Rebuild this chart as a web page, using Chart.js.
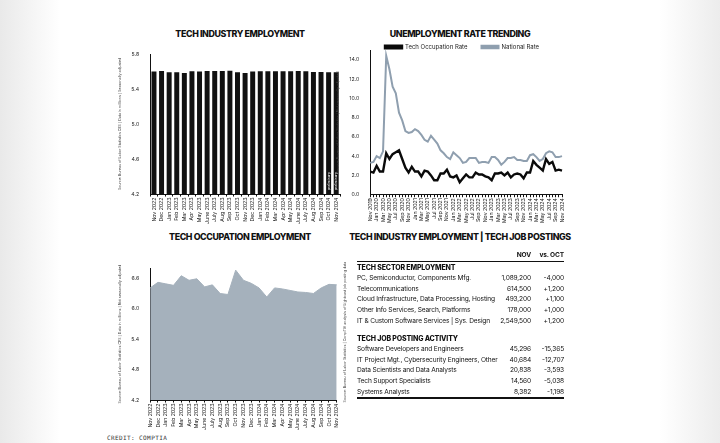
<!DOCTYPE html>
<html>
<head>
<meta charset="utf-8">
<script src="https://cdn.jsdelivr.net/npm/chart.js@4.4.1/dist/chart.umd.min.js"></script>
<style>
  html, body { margin: 0; padding: 0; }
  body {
    width: 720px; height: 443px; position: relative; overflow: hidden;
    background: linear-gradient(to right, #e9e9e9 0px, #ffffff 60px, #ffffff 660px, #ececec 720px);
    font-family: Inter, "Noto Sans", sans-serif; color: #111;
  }
  .box { position: absolute; }
  .title { position: absolute; font-weight: 800; font-size: 8.9px; letter-spacing: -0.4px; text-align: center; white-space: nowrap; }
  .side { position: absolute; font-size: 3.6px; color: #444; white-space: nowrap; transform: rotate(-90deg); transform-origin: center center; }
  .credit { position: absolute; left: 107px; top: 434px; font-family: "DejaVu Sans Mono", monospace; font-size: 6px; letter-spacing: 0.4px; color: #333; }
  table { position: absolute; left: 357px; top: 249px; width: 207px; border-collapse: collapse; font-size: 6.6px; letter-spacing: -0.15px; table-layout: fixed; }
  td { padding: 0; height: 10.6px; white-space: nowrap; }
  td.n { text-align: right; }
  tr.hd td { font-weight: 700; height: 12px; border-bottom: 1px solid #111; }
  tr.sec td { font-weight: 800; font-size: 7px; height: 11px; }
  tr.gap td { height: 7px; }
  tr.last td { border-bottom: 2px solid #111; }
</style>
</head>
<body>

<div class="title" style="left:120px; top:28px; width:240px;">TECH INDUSTRY EMPLOYMENT</div>
<div class="title" style="left:345px; top:28px; width:230px;">UNEMPLOYMENT RATE TRENDING</div>
<div class="title" style="left:120px; top:231px; width:240px;">TECH OCCUPATION EMPLOYMENT</div>
<div class="title" style="left:345px; top:231px; width:230px;">TECH INDUSTRY EMPLOYMENT | TECH JOB POSTINGS</div>

<div class="box" style="left:118px; top:47px; width:226px; height:178px;"><canvas id="barChart"></canvas></div>
<div class="box" style="left:336px; top:20px; width:252px; height:204px;"><canvas id="lineChart"></canvas></div>
<div class="box" style="left:118px; top:262px; width:226px; height:169px;"><canvas id="areaChart"></canvas></div>

<div class="side" style="top:330px; width:160px; margin-left:-80px; text-align:center; left:345px;">Source: Bureau of Labor Statistics | CompTIA analysis of Lightcast job posting data</div>

<table>
  <colgroup><col style="width:134px"><col style="width:40px"><col style="width:33px"></colgroup>
  <tr class="hd"><td></td><td class="n">NOV</td><td class="n">vs. OCT</td></tr>
  <tr class="sec"><td colspan="3">TECH SECTOR EMPLOYMENT</td></tr>
  <tr><td>PC, Semiconductor, Components Mfg.</td><td class="n">1,089,200</td><td class="n">-4,000</td></tr>
  <tr><td>Telecommunications</td><td class="n">614,500</td><td class="n">+1,200</td></tr>
  <tr><td>Cloud Infrastructure, Data Processing, Hosting</td><td class="n">493,200</td><td class="n">+1,100</td></tr>
  <tr><td>Other Info Services, Search, Platforms</td><td class="n">178,000</td><td class="n">+1,000</td></tr>
  <tr><td>IT &amp; Custom Software Services | Sys. Design</td><td class="n">2,549,500</td><td class="n">+1,200</td></tr>
  <tr class="gap"><td colspan="3"></td></tr>
  <tr class="sec"><td colspan="3">TECH JOB POSTING ACTIVITY</td></tr>
  <tr><td>Software Developers and Engineers</td><td class="n">45,296</td><td class="n">-15,365</td></tr>
  <tr><td>IT Project Mgt., Cybersecurity Engineers, Other</td><td class="n">40,684</td><td class="n">-12,707</td></tr>
  <tr><td>Data Scientists and Data Analysts</td><td class="n">20,838</td><td class="n">-3,593</td></tr>
  <tr><td>Tech Support Specialists</td><td class="n">14,560</td><td class="n">-5,038</td></tr>
  <tr class="last"><td>Systems Analysts</td><td class="n">8,382</td><td class="n">-1,198</td></tr>
</table>

<div class="credit">CREDIT: COMPTIA</div>

<script>
var monthLabels = ['Nov 2022', 'Dec 2022', 'Jan 2023', 'Feb 2023', 'Mar 2023', 'Apr 2023', 'May 2023',
    'June 2023', 'July 2023', 'Aug 2023', 'Sep 2023', 'Oct 2023', 'Nov 2023', 'Dec 2023', 'Jan 2024',
    'Feb 2024', 'Mar 2024', 'Apr 2024', 'May 2024', 'June 2024', 'July 2024', 'Aug 2024', 'Sep 2024',
    'Oct 2024', 'Nov 2024'];

// tech industry employment, millions
var industryEmployment = [5.599, 5.607, 5.591, 5.591, 5.583, 5.603, 5.599, 5.607, 5.607, 5.607, 5.610,
    5.591, 5.583, 5.599, 5.603, 5.603, 5.603, 5.603, 5.603, 5.607, 5.603, 5.595, 5.595, 5.591, 5.591];

// tech occupation employment, millions
var occupationEmployment = [6.41, 6.52, 6.49, 6.46, 6.65, 6.56, 6.59, 6.43, 6.47, 6.30, 6.28, 6.76,
    6.56, 6.50, 6.41, 6.23, 6.41, 6.39, 6.36, 6.33, 6.32, 6.30, 6.41, 6.48, 6.47];

var rateLabels = ['Nov 2019', 'Dec 2019',
    'Jan 2020', 'Feb 2020', 'Mar 2020', 'Apr 2020', 'May 2020', 'Jun 2020', 'Jul 2020', 'Aug 2020', 'Sep 2020', 'Oct 2020', 'Nov 2020', 'Dec 2020',
    'Jan 2021', 'Feb 2021', 'Mar 2021', 'Apr 2021', 'May 2021', 'Jun 2021', 'Jul 2021', 'Aug 2021', 'Sep 2021', 'Oct 2021', 'Nov 2021', 'Dec 2021',
    'Jan 2022', 'Feb 2022', 'Mar 2022', 'Apr 2022', 'May 2022', 'Jun 2022', 'Jul 2022', 'Aug 2022', 'Sep 2022', 'Oct 2022', 'Nov 2022', 'Dec 2022',
    'Jan 2023', 'Feb 2023', 'Mar 2023', 'Apr 2023', 'May 2023', 'Jun 2023', 'Jul 2023', 'Aug 2023', 'Sep 2023', 'Oct 2023', 'Nov 2023', 'Dec 2023',
    'Jan 2024', 'Feb 2024', 'Mar 2024', 'Apr 2024', 'May 2024', 'Jun 2024', 'Jul 2024', 'Aug 2024', 'Sep 2024', 'Oct 2024', 'Nov 2024'];

var techRate = [2.4, 2.3,
    3.0, 2.4, 2.4, 4.3, 3.7, 4.2, 4.4, 4.6, 3.7, 2.8, 2.3, 2.9,
    2.4, 2.4, 1.9, 2.5, 2.4, 2.0, 1.5, 1.5, 2.2, 2.2, 2.6, 1.9,
    1.8, 2.0, 1.3, 1.7, 2.1, 1.8, 1.8, 2.3, 2.1, 2.1, 1.9, 1.8,
    1.5, 2.2, 2.2, 2.3, 2.0, 2.3, 1.8, 2.1, 2.2, 2.1, 1.7, 2.3,
    2.3, 3.5, 3.1, 2.8, 2.5, 3.7, 3.2, 3.4, 2.5, 2.6, 2.5];

var nationalRate = [3.3, 3.4,
    4.0, 3.8, 4.5, 14.4, 13.0, 11.2, 10.5, 8.5, 7.7, 6.6, 6.4, 6.5,
    6.8, 6.6, 6.2, 5.7, 5.5, 6.1, 5.7, 5.3, 4.6, 4.3, 3.9, 3.7,
    4.4, 4.1, 3.8, 3.3, 3.4, 3.8, 3.8, 3.8, 3.3, 3.4, 3.4, 3.3,
    3.9, 3.9, 3.6, 3.1, 3.4, 3.8, 3.8, 3.9, 3.6, 3.6, 3.5, 3.5,
    4.1, 4.2, 3.9, 3.5, 3.7, 4.3, 4.5, 4.4, 3.9, 3.9, 4.0];

var preliminaryIdx = [23, 24];

var tickFont = { family: 'Inter', size: 5.2 };
var sideFont = { family: 'Inter', size: 3.6 };

function axisX() {
    return {
        ticks: { font: tickFont, color: '#222', maxRotation: 90, minRotation: 90, autoSkip: false, padding: 1 },
        grid: { drawOnChartArea: false, drawTicks: true, tickLength: 2.5, color: '#111' },
        border: { display: true, color: '#111', width: 1 }
    };
}

function axisY(min, max, step, lastTick, title) {
    return {
        min: min, max: max,
        afterBuildTicks: function (axis) {
            axis.ticks = axis.ticks.filter(function (t) { return t.value <= lastTick + 1e-9; });
        },
        ticks: { stepSize: step, font: tickFont, color: '#222', padding: 3,
            callback: function (v) { return v.toFixed(1); } },
        grid: { display: false },
        border: { display: true, color: '#111', width: 1 },
        title: { display: true, text: title, font: sideFont, color: '#444', padding: { top: 0, bottom: 6 } }
    };
}

var preliminaryPlugin = {
    id: 'preliminary',
    afterDatasetsDraw: function (chart) {
        var meta = chart.getDatasetMeta(0);
        var ctx = chart.ctx;
        var bottom = chart.scales.y.bottom;
        ctx.save();
        ctx.fillStyle = '#fff';
        ctx.font = '3.4px Inter';
        ctx.textAlign = 'left';
        ctx.textBaseline = 'middle';
        preliminaryIdx.forEach(function (i) {
            var bar = meta.data[i];
            ctx.save();
            ctx.translate(bar.x, bottom - 4);
            ctx.rotate(-Math.PI / 2);
            ctx.fillText('preliminary', 0, 0);
            ctx.restore();
        });
        ctx.restore();
    }
};

// legend sits just above the plot, closer than Chart.js leaves room for
var legendNudge = {
    id: 'legendNudge',
    afterUpdate: function (chart) {
        var lg = chart.legend;
        var dy = 25 - (lg.top + lg.height / 2);
        var dx = lg.legendHitBoxes.length ? 49 - lg.legendHitBoxes[0].left : 0;
        lg.top += dy;
        lg.bottom += dy;
        lg.left += dx;
        lg.right += dx;
    }
};

new Chart(document.getElementById('barChart'), {
    type: 'bar',
    data: {
        labels: monthLabels,
        datasets: [{
            data: industryEmployment,
            backgroundColor: '#111',
            borderWidth: 0,
            categoryPercentage: 0.8,
            barPercentage: 0.82
        }]
    },
    options: {
        responsive: true, maintainAspectRatio: false, animation: false,
        layout: { padding: { top: 7, right: 4, left: 0, bottom: 0 } },
        plugins: { legend: { display: false }, tooltip: { enabled: false } },
        scales: {
            x: axisX(),
            y: axisY(4.2, 5.8, 0.4, 5.8, 'Source: Bureau of Labor Statistics CES | Data in millions | Seasonally adjusted')
        }
    },
    plugins: [preliminaryPlugin]
});

var lineX = axisX();
lineX.ticks.callback = function (v, i) { return i % 2 === 0 ? this.getLabelForValue(v) : ''; };

new Chart(document.getElementById('lineChart'), {
    type: 'line',
    data: {
        labels: rateLabels,
        datasets: [{
            label: 'Tech Occupation Rate',
            data: techRate,
            borderColor: '#0a0a0a',
            backgroundColor: '#0a0a0a',
            borderWidth: 2.4,
            pointRadius: 0,
            tension: 0
        }, {
            label: 'National Rate',
            data: nationalRate,
            borderColor: '#8f9faf',
            backgroundColor: '#8f9faf',
            borderWidth: 2,
            pointRadius: 0,
            tension: 0
        }]
    },
    options: {
        responsive: true, maintainAspectRatio: false, animation: false,
        layout: { padding: { top: 0, right: 26, left: 0, bottom: 0 } },
        plugins: {
            tooltip: { enabled: false },
            legend: {
                display: true,
                labels: { boxWidth: 17, boxHeight: 2.6, padding: 14, color: '#222', font: { family: 'Inter', size: 6 } }
            }
        },
        scales: {
            x: lineX,
            y: axisY(0, 15, 2, 14, 'Source: Bureau of Labor Statistics | Not seasonally adjusted')
        }
    },
    plugins: [legendNudge]
});

new Chart(document.getElementById('areaChart'), {
    type: 'line',
    data: {
        labels: monthLabels,
        datasets: [{
            data: occupationEmployment,
            borderColor: '#a5b1bc',
            backgroundColor: '#a5b1bc',
            borderWidth: 1,
            fill: 'origin',
            pointRadius: 0,
            tension: 0
        }]
    },
    options: {
        responsive: true, maintainAspectRatio: false, animation: false,
        layout: { padding: { top: 1, right: 4, left: 0, bottom: 0 } },
        plugins: { legend: { display: false }, tooltip: { enabled: false } },
        scales: {
            x: axisX(),
            y: axisY(4.2, 6.8, 0.6, 6.6, 'Source: Bureau of Labor Statistics CPS | Data in millions | Not seasonally adjusted')
        }
    }
});
</script>
</body>
</html>
